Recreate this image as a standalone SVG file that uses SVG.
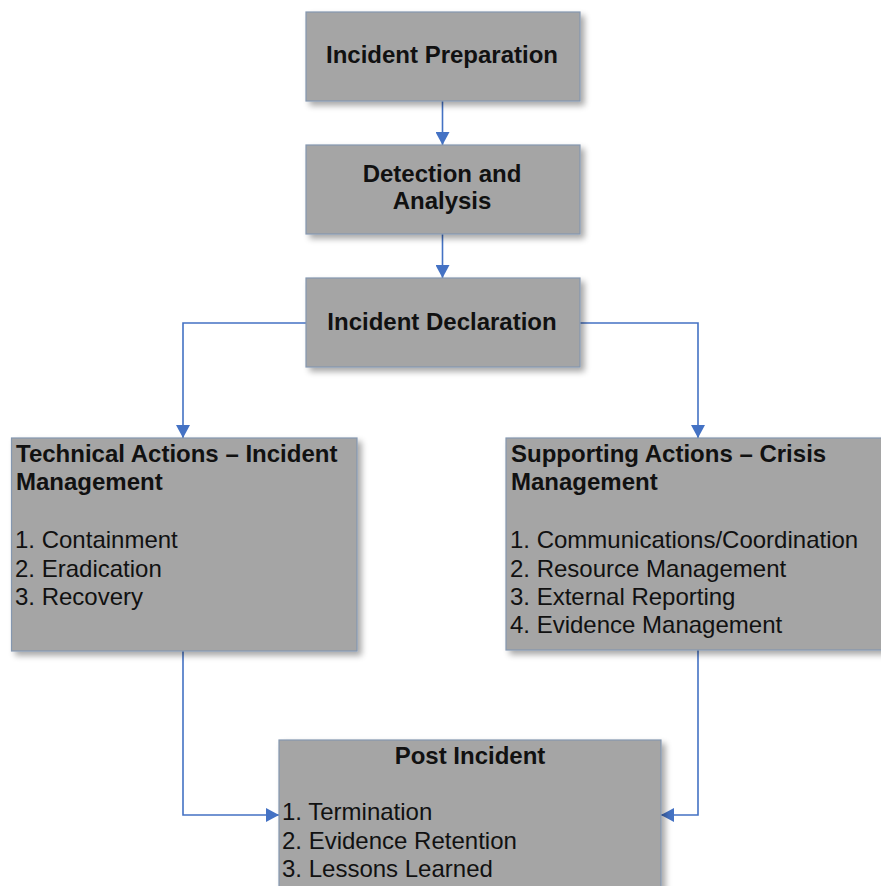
<svg xmlns="http://www.w3.org/2000/svg" width="881" height="886" viewBox="0 0 881 886">
<style>
.box{fill:#a5a5a5;stroke:#8497b0;stroke-width:1.2;filter:url(#sh)}
.t{font-family:"Liberation Sans",Arial,sans-serif;font-size:24px;fill:#111}
.b{font-weight:bold}
.c{text-anchor:middle}
.con{fill:none;stroke:#4472c4;stroke-width:1.6;marker-end:url(#ah)}
</style>
<defs>
<filter id="sh" x="-10%" y="-10%" width="125%" height="130%">
<feGaussianBlur in="SourceAlpha" stdDeviation="3"/>
<feOffset dx="4" dy="4" result="o"/>
<feComponentTransfer><feFuncA type="linear" slope="0.35"/></feComponentTransfer>
<feMerge><feMergeNode/><feMergeNode in="SourceGraphic"/></feMerge>
</filter>
<marker id="ah" markerUnits="userSpaceOnUse" markerWidth="14" markerHeight="14" refX="13" refY="7" orient="auto">
<path d="M0,0 L13,7 L0,14 Z" fill="#4472c4"/>
</marker>
</defs>
<g id="connectors">
<path class="con" d="M442.5,101 V145"/>
<path class="con" d="M442.5,234 V278"/>
<path class="con" d="M306,323 H183 V438"/>
<path class="con" d="M580,323 H698 V438"/>
<path class="con" d="M183,651 V815 H279"/>
<path class="con" d="M698,650 V815 H661"/>
</g>
<g id="n1">
<rect class="box" x="306" y="12" width="274" height="89"/>
<text class="t b c" x="442" y="63">Incident Preparation</text>
</g>
<g id="n2">
<rect class="box" x="306" y="145" width="274" height="89"/>
<text class="t b c" x="442" y="182">Detection and</text>
<text class="t b c" x="442" y="209">Analysis</text>
</g>
<g id="n3">
<rect class="box" x="306" y="278" width="274" height="89"/>
<text class="t b c" x="442" y="330">Incident Declaration</text>
</g>
<g id="n4">
<rect class="box" x="11.5" y="438" width="345.5" height="213"/>
<text class="t b" x="16" y="462">Technical Actions – Incident</text>
<text class="t b" x="16" y="490">Management</text>
<text class="t" x="15" y="548">1. Containment</text>
<text class="t" x="15" y="576.5">2. Eradication</text>
<text class="t" x="15" y="605">3. Recovery</text>
</g>
<g id="n5">
<rect class="box" x="506" y="438" width="380" height="212"/>
<text class="t b" x="511" y="462">Supporting Actions – Crisis</text>
<text class="t b" x="511" y="490">Management</text>
<text class="t" x="510" y="548">1. Communications/Coordination</text>
<text class="t" x="510" y="576.5">2. Resource Management</text>
<text class="t" x="510" y="605">3. External Reporting</text>
<text class="t" x="510" y="633">4. Evidence Management</text>
</g>
<g id="n6">
<rect class="box" x="279" y="740" width="382" height="160"/>
<text class="t b c" x="470" y="764">Post Incident</text>
<text class="t" x="282" y="820">1. Termination</text>
<text class="t" x="282" y="849">2. Evidence Retention</text>
<text class="t" x="282" y="877">3. Lessons Learned</text>
</g>
</svg>
